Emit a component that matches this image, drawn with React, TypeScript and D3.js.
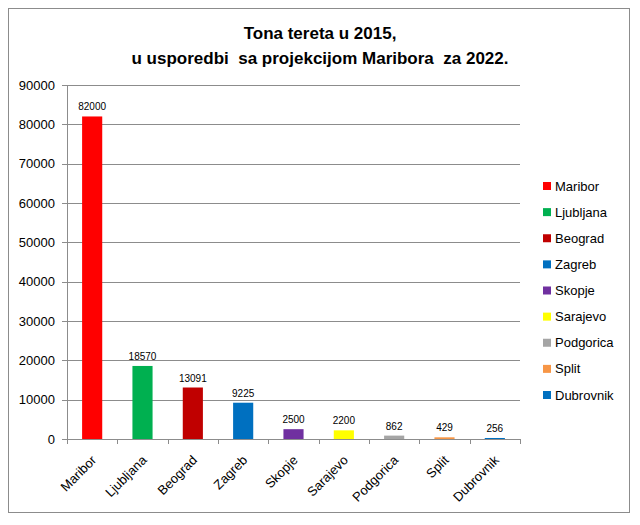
import React from 'react';
import * as d3 from 'd3';

const cities = ['Maribor', 'Ljubljana', 'Beograd', 'Zagreb', 'Skopje', 'Sarajevo', 'Podgorica', 'Split', 'Dubrovnik'];
const tons = [82000, 18570, 13091, 9225, 2500, 2200, 862, 429, 256];
const colors = ['#FF0000', '#00B050', '#C00000', '#0070C0', '#7030A0', '#FFFF00', '#A5A5A5', '#F79646', '#0070C0'];
const yTicks = [0, 10000, 20000, 30000, 40000, 50000, 60000, 70000, 80000, 90000];
const titleLines = ['Tona tereta u 2015,', 'u usporedbi  sa projekcijom Maribora  za 2022.'];

const width = 640;
const height = 525;
const margin = { top: 85, right: 120, bottom: 86, left: 67 };
const font = "'Liberation Sans', Arial, sans-serif";

const x = d3.scaleBand<string>()
  .domain(cities)
  .range([margin.left, width - margin.right])
  .paddingInner(0.6)
  .paddingOuter(0.3);

const y = d3.scaleLinear()
  .domain([0, 90000])
  .range([height - margin.bottom, margin.top]);

const legendY = d3.scalePoint<string>()
  .domain(cities)
  .range([186, 395]);

export default function App() {
  const plotRight = width - margin.right;
  const bandStart = (i: number) => margin.left + i * (plotRight - margin.left) / cities.length;
  return (
    <svg width={width} height={height} viewBox={`0 0 ${width} ${height}`}
      style={{ position: 'absolute', left: 0, top: 0, fontFamily: font }}>
      <rect x={0} y={0} width={width} height={height} fill="#fff" />
      <rect x={8.5} y={8.5} width={621} height={504} fill="#fff" stroke="#8c8c8c" strokeWidth={1} />

      {titleLines.map((t, i) => (
        <text key={t} x={320} y={39 + i * 25} textAnchor="middle" fontSize={17} fontWeight="bold" fill="#000"
          style={{ whiteSpace: 'pre' }}>{t}</text>
      ))}

      {/* gridlines + y axis */}
      {yTicks.map(v => (
        <g key={v}>
          <line x1={margin.left - 5} x2={plotRight} y1={Math.round(y(v)) + 0.5} y2={Math.round(y(v)) + 0.5}
            stroke="#8c8c8c" strokeWidth={1} />
          <text x={55} y={y(v)} dy="0.35em" textAnchor="end" fontSize={13} fill="#000">{v}</text>
        </g>
      ))}
      <line x1={margin.left + 0.5} x2={margin.left + 0.5} y1={y(90000)} y2={y(0)} stroke="#8c8c8c" />

      {/* x axis ticks */}
      {d3.range(cities.length + 1).map(i => (
        <line key={i} x1={Math.round(bandStart(i)) + 0.5} x2={Math.round(bandStart(i)) + 0.5}
          y1={y(0)} y2={y(0) + 5} stroke="#8c8c8c" />
      ))}

      {/* bars */}
      {cities.map((c, i) => (
        <g key={c}>
          <rect x={x(c)} y={y(tons[i])} width={x.bandwidth()} height={y(0) - y(tons[i])} fill={colors[i]} />
          <text x={(x(c) ?? 0) + x.bandwidth() / 2} y={y(tons[i]) - 6} textAnchor="middle" fontSize={10} fill="#000">
            {tons[i]}
          </text>
          <text transform={`translate(${(x(c) ?? 0) + x.bandwidth() / 2 + 5},${y(0) + 22}) rotate(-45)`}
            textAnchor="end" fontSize={13} fill="#000">{c}</text>
        </g>
      ))}

      {/* legend */}
      {cities.map((c, i) => (
        <g key={c} transform={`translate(543,${legendY(c)})`}>
          <rect x={0} y={-4} width={8} height={8} fill={colors[i]} />
          <text x={12} y={0} dy="0.35em" fontSize={13} fill="#000">{c}</text>
        </g>
      ))}
    </svg>
  );
}
